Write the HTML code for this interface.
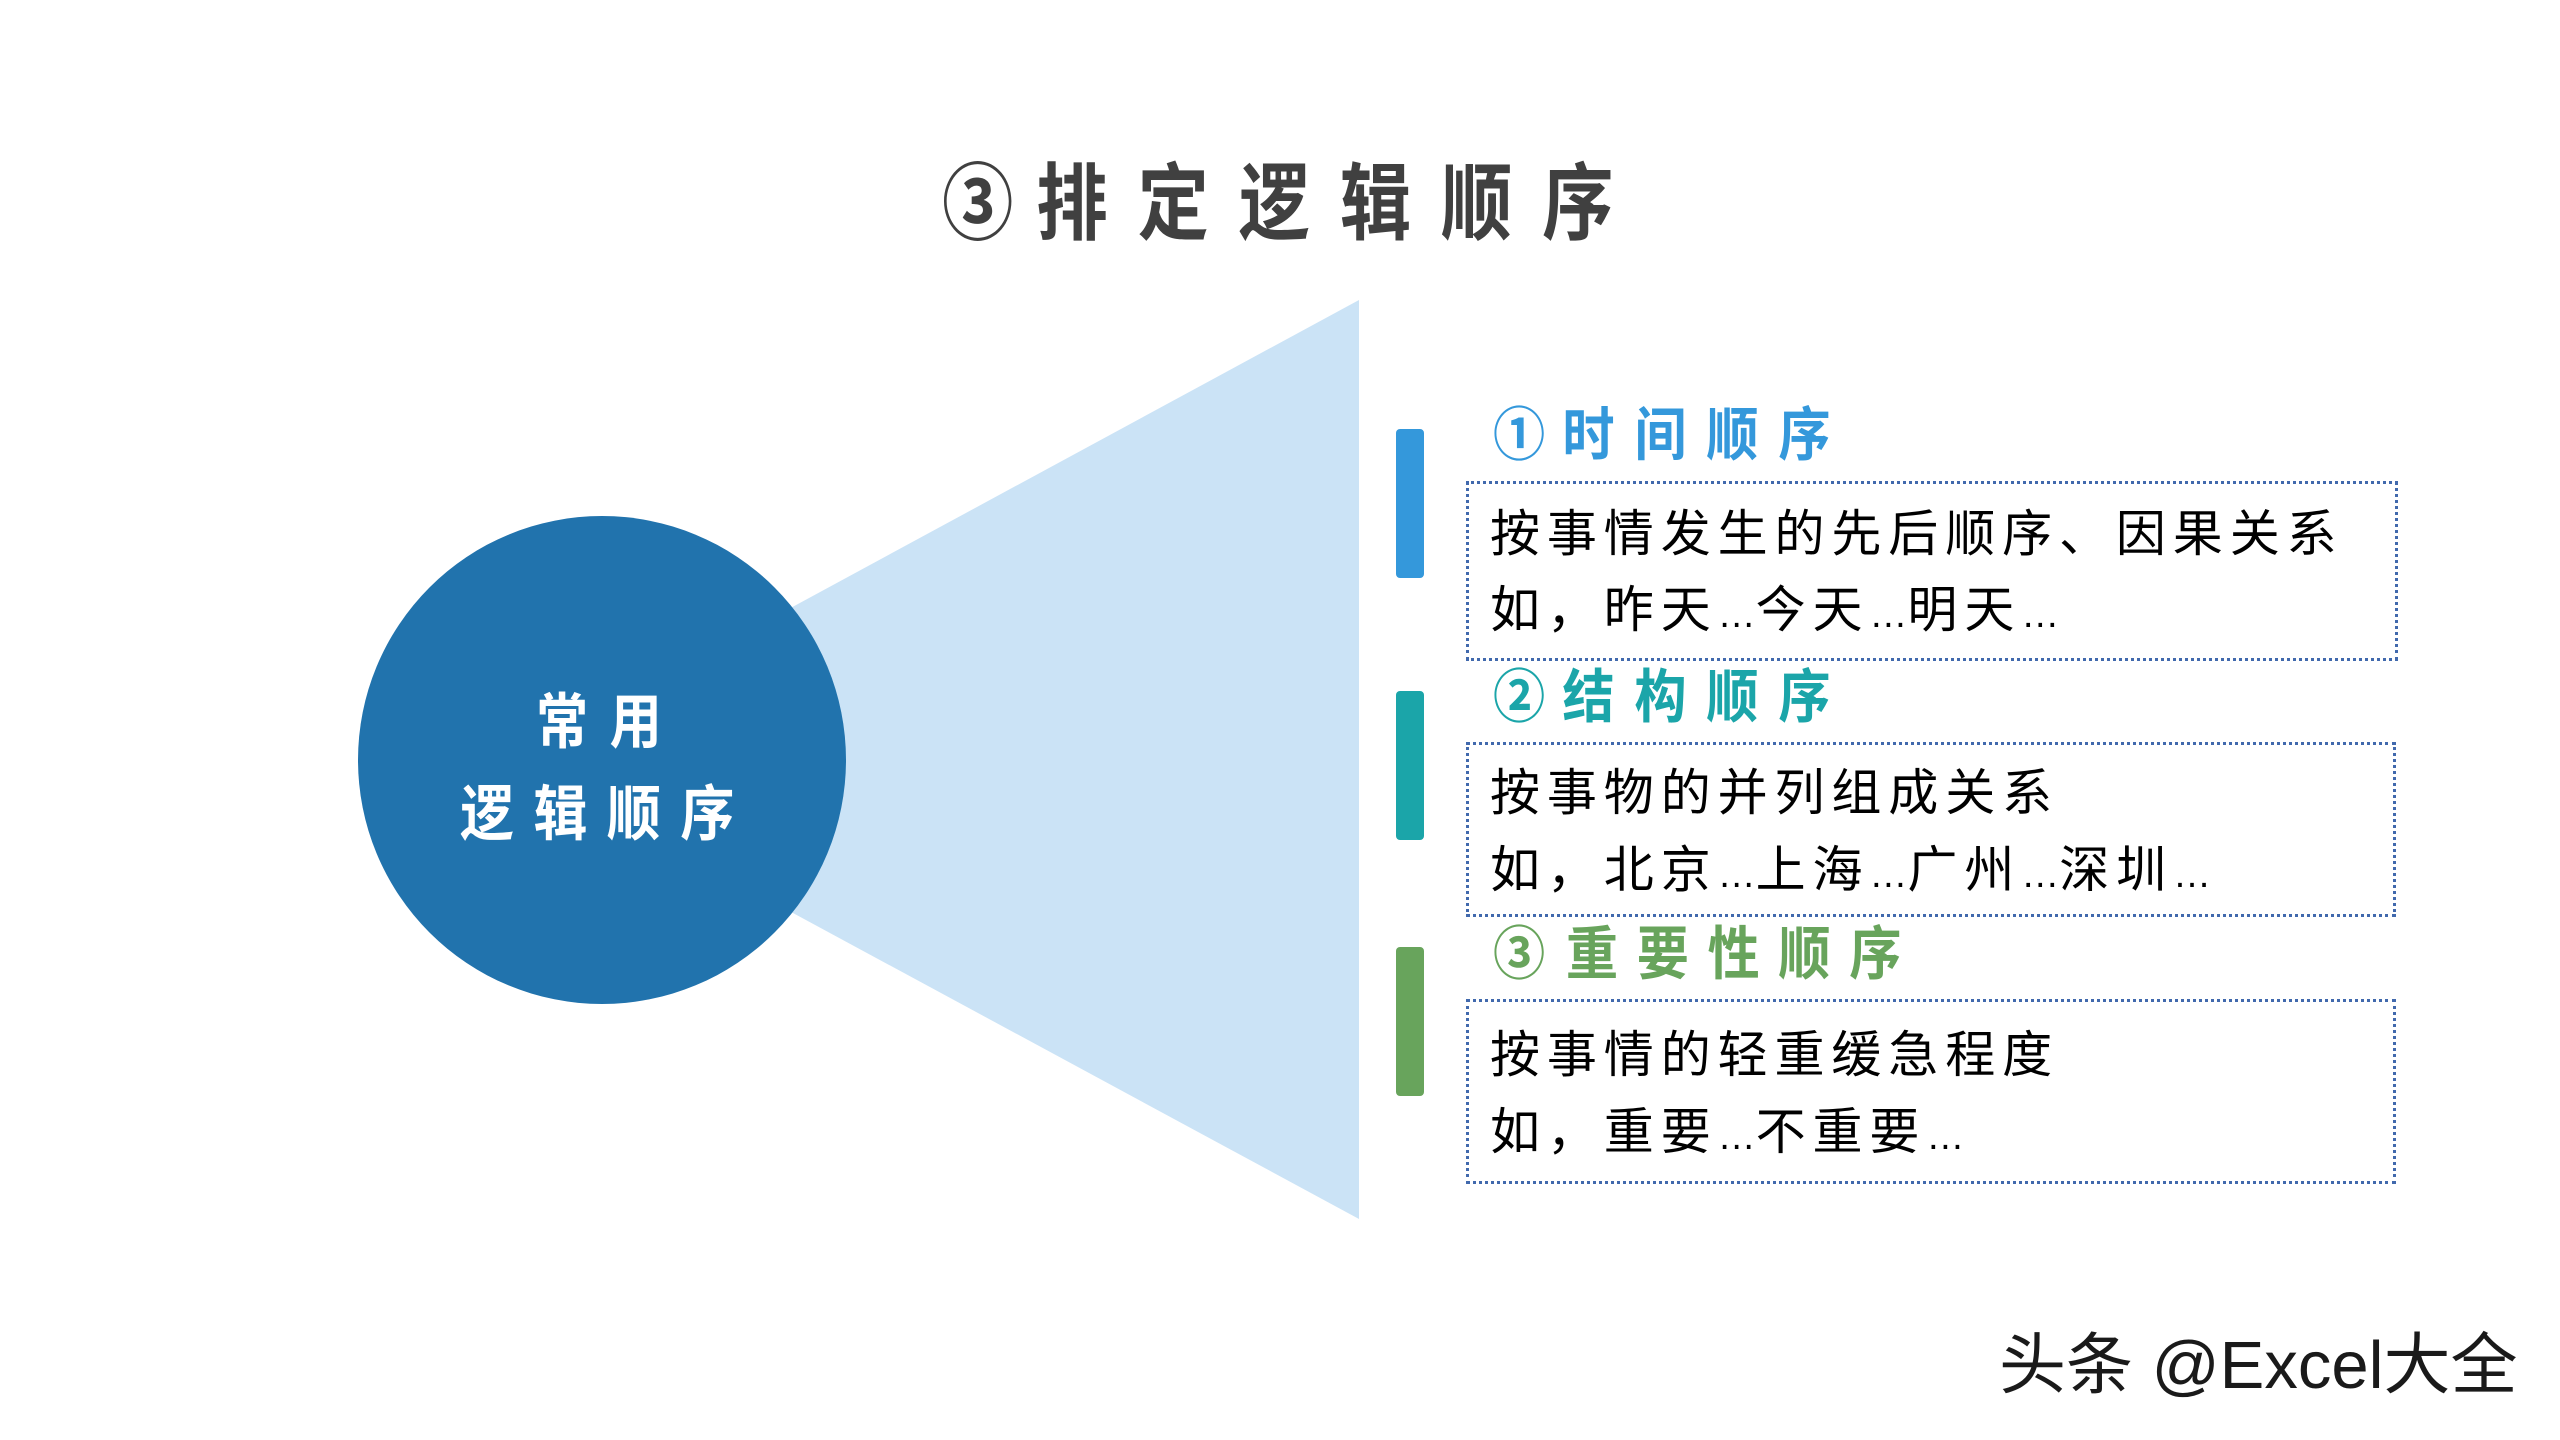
<!DOCTYPE html>
<html lang="zh-CN"><head><meta charset="utf-8"><title>排定逻辑顺序</title>
<style>
html,body{margin:0;padding:0;background:#fff}
#p{position:relative;width:2560px;height:1440px;overflow:hidden;background:#fff;font-family:"Liberation Sans","WenQuanYi Zen Hei","Noto Sans CJK SC",sans-serif}
#p svg{position:absolute;left:0;top:0}
.t{position:absolute;white-space:pre;line-height:1;transform-origin:0 50%}
.box{position:absolute;box-sizing:border-box;border:3px dotted #4169ad}
.bar{position:absolute;left:1396px;width:28px;height:149px;border-radius:4px}
.b{font-size:50px;letter-spacing:6.9px;color:#000;left:1490px}
.b i{font-style:normal;font-size:38px;letter-spacing:0}
.h{font-size:58px;font-weight:bold;letter-spacing:22px;left:1493px;transform:scaleX(.9)}
.h i{font-style:normal;letter-spacing:19px}
</style></head><body><div id="p">
<svg width="2560" height="1440"><polygon points="1359,300 1359,1219 510,760" fill="#cbe3f6"/><circle cx="602" cy="760" r="244" fill="#2173ad"/></svg>
<div class="t" style="left:942px;top:162px;font-size:84px;font-weight:bold;letter-spacing:35px;color:#404040;transform:scaleX(.85)"><span style="letter-spacing:27px">③</span>排定逻辑顺序</div>
<div class="t" style="left:536px;top:693px;font-size:60px;font-weight:bold;letter-spacing:24.5px;color:#fff;transform:scaleX(.87)">常用</div>
<div class="t" style="left:460px;top:785px;font-size:60px;font-weight:bold;letter-spacing:21.6px;color:#fff;transform:scaleX(.9)">逻辑顺序</div>
<div class="bar" style="top:429px;background:#3498db"></div>
<div class="bar" style="top:691px;background:#1ba5a9"></div>
<div class="bar" style="top:947px;background:#68a45c"></div>
<div class="box" style="left:1466px;top:481px;width:932px;height:180px"></div>
<div class="box" style="left:1466px;top:742px;width:930px;height:175px"></div>
<div class="box" style="left:1466px;top:999px;width:930px;height:185px"></div>
<div class="t h" style="top:407px;color:#3498db"><i>①</i>时间顺序</div>
<div class="t h" style="top:669px;color:#1ba5a9"><i>②</i>结构顺序</div>
<div class="t h" style="top:926px;color:#68a45c;letter-spacing:20.7px"><i style="letter-spacing:23px">③</i>重要性顺序</div>
<div class="t b" style="top:509px">按事情发生的先后顺序、因果关系</div>
<div class="t b" style="top:585px">如，昨天<i>…</i>今天<i>…</i>明天<i>…</i></div>
<div class="t b" style="top:768px">按事物的并列组成关系</div>
<div class="t b" style="top:845px">如，北京<i>…</i>上海<i>…</i>广州<i>…</i>深圳<i>…</i></div>
<div class="t b" style="top:1030px">按事情的轻重缓急程度</div>
<div class="t b" style="top:1107px">如，重要<i>…</i>不重要<i>…</i></div>
<div class="t" style="left:1999px;top:1332px;font-size:67px;color:#1a1a1a">头条 @Excel大全</div>
</div></body></html>
